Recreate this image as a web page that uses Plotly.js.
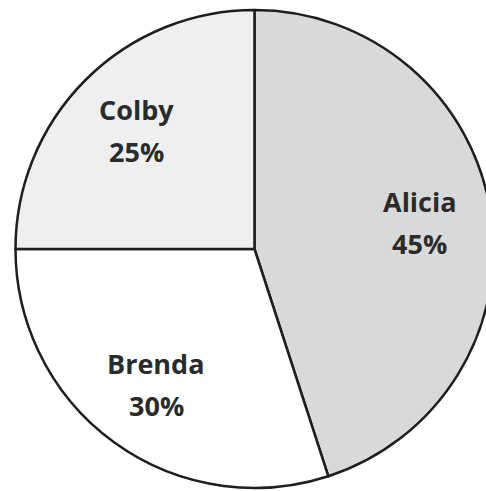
<!DOCTYPE html>
<html>
<head>
<meta charset="utf-8">
<script src="https://cdn.plot.ly/plotly-3.0.1.min.js"></script>
<style>html,body{margin:0;padding:0;overflow:hidden;background:#fff;width:486px;height:491px}</style>
</head>
<body>
<div id="chart"></div>
<script>
const names = ["Alicia", "Brenda", "Colby"];
const shares = [45, 30, 25];
const sliceColors = ["#d8d9db", "#ffffff", "#efefef"];

const W = 509, H = 491, mT = 10, mB = 3;
const plotH = H - mT - mB;
const R = Math.min(W, plotH) / 2;
const labelFrac = 0.7;

// label positions derived from the data (mid-angle of each slice, clockwise from top)
const total = shares.reduce((a, b) => a + b, 0);
const annotations = [];
let cum = 0;
shares.forEach((v, i) => {
  const mid = (cum + v / 2) / total * 2 * Math.PI;
  cum += v;
  const px = W / 2 + labelFrac * R * Math.sin(mid);
  const py = plotH / 2 - labelFrac * R * Math.cos(mid);
  const ax = px / W, ay = 1 - py / plotH;
  const font = {family: "Open Sans, sans-serif", size: 27, color: "#2b2b2b"};
  annotations.push({xref: "paper", yref: "paper", x: ax, y: ay, text: "<b>" + names[i] + "</b>",
    showarrow: false, font: font, yshift: 21, xanchor: "center", yanchor: "middle"});
  annotations.push({xref: "paper", yref: "paper", x: ax, y: ay, text: "<b>" + v + "%</b>",
    showarrow: false, font: font, yshift: -21, xanchor: "center", yanchor: "middle"});
});

Plotly.newPlot("chart", [{
  type: "pie",
  labels: names,
  values: shares,
  sort: false,
  direction: "clockwise",
  rotation: 0,
  marker: {colors: sliceColors, line: {color: "#1e1e1e", width: 2.5}},
  textinfo: "none",
  hoverinfo: "none",
  showlegend: false
}], {
  width: W,
  height: H,
  margin: {l: 0, r: 0, t: mT, b: mB, pad: 0},
  paper_bgcolor: "#ffffff",
  showlegend: false,
  annotations: annotations
}, {staticPlot: true});
</script>
</body>
</html>
